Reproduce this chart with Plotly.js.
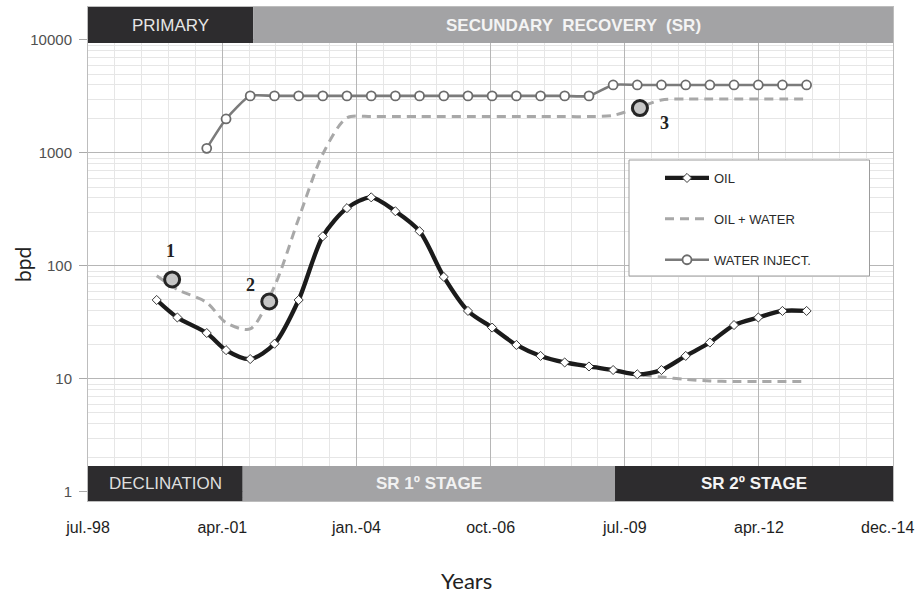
<!DOCTYPE html>
<html>
<head>
<meta charset="utf-8">
<script src="https://cdn.plot.ly/plotly-3.0.1.min.js"></script>
<style>html,body{margin:0;padding:0;background:#fff;}#chart{width:917px;height:593px;}</style>
</head>
<body>
<div id="chart"></div>
<script>
// ---------- data ----------
var dates = ['1999-12-18','2000-05-20','2000-12-25','2001-05-18','2001-11-14','2002-05-14','2002-11-10',
  '2003-05-09','2003-11-05','2004-05-04','2004-10-31','2005-04-29','2005-10-27','2006-04-25','2006-10-22',
  '2007-04-21','2007-10-18','2008-04-15','2008-10-13','2009-04-11','2009-10-08','2010-04-06','2010-10-04',
  '2011-04-02','2011-09-29','2012-03-28','2012-09-24','2013-03-23'];
var oil = [50, 35, 25.5, 18, 15, 20.5, 50, 183, 325, 405, 305, 203, 80, 40, 28.5, 20, 16, 14, 12.9, 12,
  11, 12, 16, 21, 30, 35, 40, 40];
var oilWaterUpper = [82, 62, 47.5, 31.5, 27.7, 66, 262, 980, 2050, 2100, 2100, 2100, 2100, 2100, 2100,
  2100, 2100, 2100, 2100, 2150, 2500, 2950, 3000, 3000, 3000, 3000, 3000, 3000];
var oilWaterLowerDates = ['2009-04-11','2009-10-08','2010-04-06','2010-10-04','2011-04-02','2011-09-29','2012-03-28','2012-09-24','2013-03-23'];
var oilWaterLower = [12, 11, 10.4, 9.9, 9.6, 9.5, 9.5, 9.5, 9.5];
var injDates = ['2000-12-25','2001-05-18','2001-11-14','2002-05-14','2002-11-10','2003-05-09','2003-11-05',
  '2004-05-04','2004-10-31','2005-04-29','2005-10-27','2006-04-25','2006-10-22','2007-04-21','2007-10-18',
  '2008-04-15','2008-10-13','2009-04-11','2009-10-08','2010-04-06','2010-10-04','2011-04-02','2011-09-29',
  '2012-03-28','2012-09-24','2013-03-23'];
var waterInject = [1100, 2000, 3200, 3200, 3200, 3200, 3200, 3200, 3200, 3200, 3200, 3200, 3200, 3200, 3200,
  3200, 3200, 4000, 4000, 4000, 4000, 4000, 4000, 4000, 4000, 4000];

var callLabels = ['1', '2', '3'];
var callDates = ['2000-04-11', '2002-04-05', '2009-10-28'];
var callValues = [76, 48.5, 2500];

var xTickVals = ['1998-07-24','2001-04-20','2004-01-15','2006-10-11','2009-07-07','2012-04-02','2014-12-27'];
var xTickText = ['jul.-98','apr.-01','jan.-04','oct.-06','jul.-09','apr.-12','dec.-14'];
var yTickVals = [1, 10, 100, 1000, 10000];
var yTickText = ['1', '10', '100', '1000', '10000'];

var topPhases = ['PRIMARY', 'SECUNDARY  RECOVERY  (SR)'];
var topStart = ['1998-07-24', '2001-12-07'];
var topEnd = ['2001-12-07', '2014-12-27'];
var botPhases = ['DECLINATION', 'SR 1º STAGE', 'SR 2º STAGE'];
var botStart = ['1998-07-24', '2001-09-19', '2009-04-25'];
var botEnd = ['2001-09-19', '2009-04-25', '2014-12-27'];

// ---------- styling ----------
var DARK = '#2d2c2e', LIGHT = '#a3a3a5';
var topColors = [DARK, LIGHT], topText = ['#e6e6e6', '#f4f4f4'], topBold = [false, true];
var botColors = [DARK, LIGHT, DARK], botText = ['#dedede', '#f2f2f2', '#f4f4f4'], botBold = [false, true, true];
var TICKFONT = {family: 'Liberation Sans, Arial, sans-serif', size: 16, color: '#1e1e1e'};

function mid(a, b) {
  var t = (new Date(a + 'T00:00:00Z').getTime() + new Date(b + 'T00:00:00Z').getTime()) / 2;
  return new Date(t).toISOString().slice(0, 10);
}

var traces = [
  {x: injDates, y: waterInject, name: 'WATER INJECT.', mode: 'lines+markers', legendgroup: 'wi', legendrank: 3,
   line: {color: '#7b7b7b', width: 2.6, shape: 'spline', smoothing: 0.6},
   marker: {symbol: 'circle', size: 9, color: '#ffffff', line: {color: '#6c6c6c', width: 1.8}}},
  {x: dates, y: oilWaterUpper, name: 'OIL + WATER', mode: 'lines', legendgroup: 'ow', legendrank: 2,
   line: {color: '#a8a8a8', width: 3, dash: '9px,6px', shape: 'spline', smoothing: 0.8}},
  {x: oilWaterLowerDates, y: oilWaterLower, name: 'OIL + WATER', mode: 'lines', legendgroup: 'ow', showlegend: false,
   line: {color: '#a8a8a8', width: 3, dash: '9px,6px', shape: 'spline', smoothing: 0.8}},
  {x: dates, y: oil, name: 'OIL', mode: 'lines+markers', legendgroup: 'oil', legendrank: 1,
   line: {color: '#1b1b1b', width: 4.3, shape: 'spline', smoothing: 0.8},
   marker: {symbol: 'diamond', size: 7, color: '#ffffff', line: {color: '#3a3a3a', width: 1}}},
  {x: callDates, y: callValues, mode: 'markers', showlegend: false, hoverinfo: 'skip',
   marker: {symbol: 'circle', size: 15, color: '#c6c6c6', line: {color: '#262626', width: 3}}}
];

var shapes = [], annotations = [];
var TOPY0 = (501 - 43) / 494, BOTY1 = (501 - 466) / 494;
topPhases.forEach(function (t, i) {
  shapes.push({type: 'rect', xref: 'x', yref: 'paper', x0: topStart[i], x1: topEnd[i], y0: TOPY0, y1: 1,
    fillcolor: topColors[i], line: {width: 0}, layer: 'above'});
  annotations.push({xref: 'x', yref: 'paper', x: mid(topStart[i], topEnd[i]), y: (TOPY0 + 1) / 2, text: t,
    showarrow: false, xanchor: 'center', yanchor: 'middle',
    font: {family: 'Liberation Sans, Arial, sans-serif', size: 17, color: topText[i], weight: topBold[i] ? 'bold' : 'normal'}});
});
botPhases.forEach(function (t, i) {
  shapes.push({type: 'rect', xref: 'x', yref: 'paper', x0: botStart[i], x1: botEnd[i], y0: 0, y1: BOTY1,
    fillcolor: botColors[i], line: {width: 0}, layer: 'above'});
  annotations.push({xref: 'x', yref: 'paper', x: mid(botStart[i], botEnd[i]), y: BOTY1 / 2, text: t,
    showarrow: false, xanchor: 'center', yanchor: 'middle',
    font: {family: 'Liberation Sans, Arial, sans-serif', size: 17, color: botText[i], weight: botBold[i] ? 'bold' : 'normal'}});
});
// legend box
shapes.push({type: 'rect', xref: 'paper', yref: 'paper', x0: (629 - 88) / 805, x1: (869.5 - 88) / 805,
  y0: (501 - 276) / 494, y1: (501 - 160) / 494, fillcolor: '#ffffff', line: {color: '#9c9c9c', width: 1}, layer: 'above'});

// callout numbers
var callShift = [[-2, 28], [-19, 16], [25, -15]];
callLabels.forEach(function (t, i) {
  annotations.push({xref: 'x', yref: 'y', x: callDates[i], y: Math.log10(callValues[i]), text: t, showarrow: false,
    xshift: callShift[i][0], yshift: callShift[i][1],
    font: {family: 'Liberation Serif, Times New Roman, serif', size: 18, color: '#222222', weight: 'bold'}});
});
// last x tick label sits at the right edge: draw it as text nudged inward so it is not clipped
var nLast = xTickVals.length - 1;
annotations.push({xref: 'x', yref: 'paper', x: xTickVals[nLast], y: (501 - 527) / 494, text: xTickText[nLast],
  xshift: -6, showarrow: false, xanchor: 'center', yanchor: 'middle', font: TICKFONT});
// axis titles
annotations.push({xref: 'paper', yref: 'paper', x: (466 - 88) / 805, y: (501 - 580) / 494, text: 'Years',
  showarrow: false, xanchor: 'center', yanchor: 'middle', font: {family: 'Lato, sans-serif', size: 22, color: '#222222'}});
annotations.push({xref: 'paper', yref: 'paper', x: (23 - 88) / 805, y: (501 - 265) / 494, text: 'bpd', textangle: -90,
  showarrow: false, xanchor: 'center', yanchor: 'middle', font: {family: 'Lato, sans-serif', size: 21, color: '#222222'}});

var layout = {
  width: 917, height: 593,
  margin: {l: 88, r: 24, t: 7, b: 92},
  paper_bgcolor: '#ffffff', plot_bgcolor: '#ffffff',
  showlegend: true,
  legend: {x: (660 - 88) / 805, y: (501 - 163) / 494, xanchor: 'left', yanchor: 'top',
    bgcolor: 'rgba(0,0,0,0)', borderwidth: 0, traceorder: 'grouped', tracegroupgap: 21, itemwidth: 44,
    font: {family: 'Liberation Sans, Arial, sans-serif', size: 13, color: '#2a2a2a'}},
  xaxis: {type: 'date', range: ['1998-07-24', '2014-12-27'], tickmode: 'array',
    tickvals: xTickVals.slice(0, nLast), ticktext: xTickText.slice(0, nLast),
    ticks: '', ticklabelstandoff: 12, showgrid: true, gridcolor: '#b6b6b6', gridwidth: 1, zeroline: false,
    showline: true, linecolor: '#bdbdbd', mirror: true,
    minor: {dtick: 200 * 86400000, tick0: '1998-07-24', showgrid: true, gridcolor: '#e6e6e6', ticks: ''},
    tickfont: TICKFONT},
  yaxis: {type: 'log', range: [-0.08, 4.292], tickmode: 'array', tickvals: yTickVals, ticktext: yTickText,
    ticks: 'outside', ticklen: 8, tickcolor: '#aaaaaa', ticklabelstandoff: 4,
    showgrid: true, gridcolor: '#b6b6b6', gridwidth: 1, zeroline: false,
    showline: true, linecolor: '#bdbdbd', mirror: true,
    minor: {dtick: 'D1', showgrid: true, gridcolor: '#e6e6e6', ticks: ''},
    tickfont: {family: 'Liberation Sans, Arial, sans-serif', size: 15, color: '#505050'}},
  shapes: shapes,
  annotations: annotations
};

Plotly.newPlot('chart', traces, layout, {displayModeBar: false, staticPlot: true});
</script>
</body>
</html>
